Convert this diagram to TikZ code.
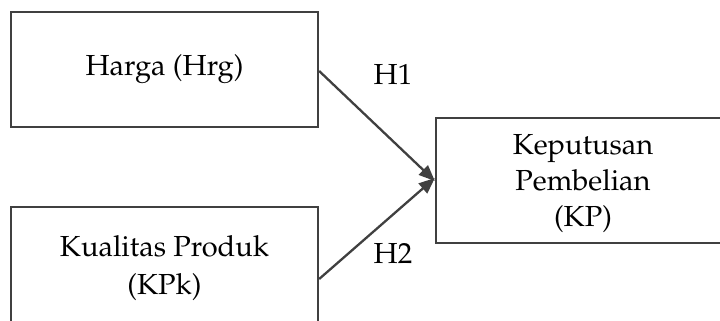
\documentclass[tikz,border=0pt]{standalone}
\usepackage[T1]{fontenc}
\usepackage{mathpazo}
\usetikzlibrary{arrows.meta}
\definecolor{edge}{HTML}{404040}
\tikzset{
  box/.style={draw=edge, line width=2.3pt, rectangle, inner sep=0pt, align=center,
    font=\fontsize{29}{35}\selectfont},
  link/.style={draw=edge, line width=2.3pt, -{Triangle[length=16pt,width=13pt]}},
  hlabel/.style={font=\fontsize{29}{35}\selectfont, inner sep=0pt}
}
\begin{document}
\begin{tikzpicture}[x=1pt,y=-1pt]
\useasboundingbox (0,0) rectangle (720,321);
\clip (0,0) rectangle (720,321);
\node[box, minimum width=307pt, minimum height=115pt] (hrg) at (164.5,69.5) {Harga (Hrg)};
\node[box, minimum width=307pt, minimum height=133pt] (kpk) at (164.5,273.5) {};
\node[align=center, font=\fontsize{29}{38}\selectfont, inner sep=0pt] (kpkt) at (164.5,268) {Kualitas Produk\\(KPk)};
\node[box, minimum width=296pt, minimum height=125pt] (kp) at (584,180.5) {};
\node[align=center, font=\fontsize{29}{36}\selectfont, inner sep=0pt] (kpt) at (583,183) {Keputusan\\Pembelian\\(KP)};
\draw[link] ([yshift=-1.5pt]hrg.east) -- ([yshift=-0.5pt]kp.west);
\draw[link] ([yshift=-5.5pt]kpk.east) -- ([yshift=2.5pt]kp.west);
\node[hlabel] (h1) at (393,74) {H1};
\node[hlabel] (h2) at (393,253) {H2};
\end{tikzpicture}
\end{document}
